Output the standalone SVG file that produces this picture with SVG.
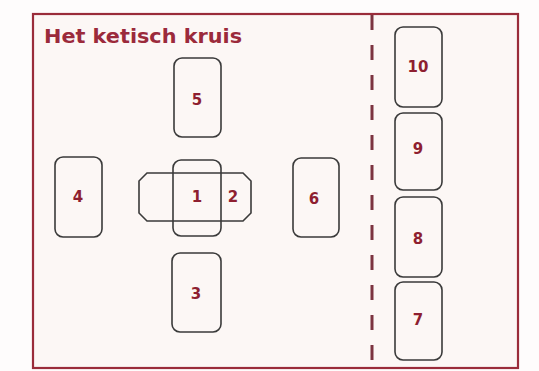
<svg xmlns="http://www.w3.org/2000/svg" width="539" height="371" viewBox="0 0 539 371">
<defs>
<style>
.card{fill:none;stroke:#3a3a3a;stroke-width:1.6}
.num{font-family:"DejaVu Sans","Liberation Sans",sans-serif;font-weight:bold;font-size:15px;fill:#8e1f30;text-anchor:middle;dominant-baseline:central}
.title{font-family:"DejaVu Sans","Liberation Sans",sans-serif;font-weight:bold;font-size:19px;fill:#9b2a3b}
</style>
</defs>
<rect x="0" y="0" width="539" height="371" fill="#fefcfc"/>
<rect x="33" y="14" width="485" height="354" fill="#fcf7f5" stroke="#9a2c3a" stroke-width="2.2"/>
<text class="title" x="44" y="43" textLength="198" lengthAdjust="spacingAndGlyphs">Het ketisch kruis</text>
<g id="connectors">
<line x1="372" y1="15" x2="372" y2="368" stroke="#7c3440" stroke-width="3" stroke-dasharray="15 15"/>
</g>
<g id="card5"><rect class="card" x="174" y="58" width="47" height="79" rx="8"/><text class="num" x="197" y="100">5</text></g>
<g id="card4"><rect class="card" x="55" y="157" width="47" height="80" rx="8"/><text class="num" x="78" y="197">4</text></g>
<g id="card2"><path class="card" d="M147,173 H243 L251,181 V213 L243,221 H147 L139,213 V181 Z"/><text class="num" x="233" y="197">2</text></g>
<g id="card1"><rect class="card" x="173" y="160" width="48" height="76" rx="8"/><text class="num" x="197" y="197">1</text></g>
<g id="card6"><rect class="card" x="293" y="158" width="46" height="79" rx="8"/><text class="num" x="314" y="199">6</text></g>
<g id="card3"><rect class="card" x="172" y="253" width="49" height="79" rx="8"/><text class="num" x="196" y="294">3</text></g>
<g id="card10"><rect class="card" x="395" y="27" width="47" height="80" rx="8"/><text class="num" x="418" y="67">10</text></g>
<g id="card9"><rect class="card" x="395" y="113" width="47" height="77" rx="8"/><text class="num" x="418" y="149">9</text></g>
<g id="card8"><rect class="card" x="395" y="197" width="47" height="80" rx="8"/><text class="num" x="418" y="239">8</text></g>
<g id="card7"><rect class="card" x="395" y="282" width="47" height="78" rx="8"/><text class="num" x="418" y="320">7</text></g>
</svg>
